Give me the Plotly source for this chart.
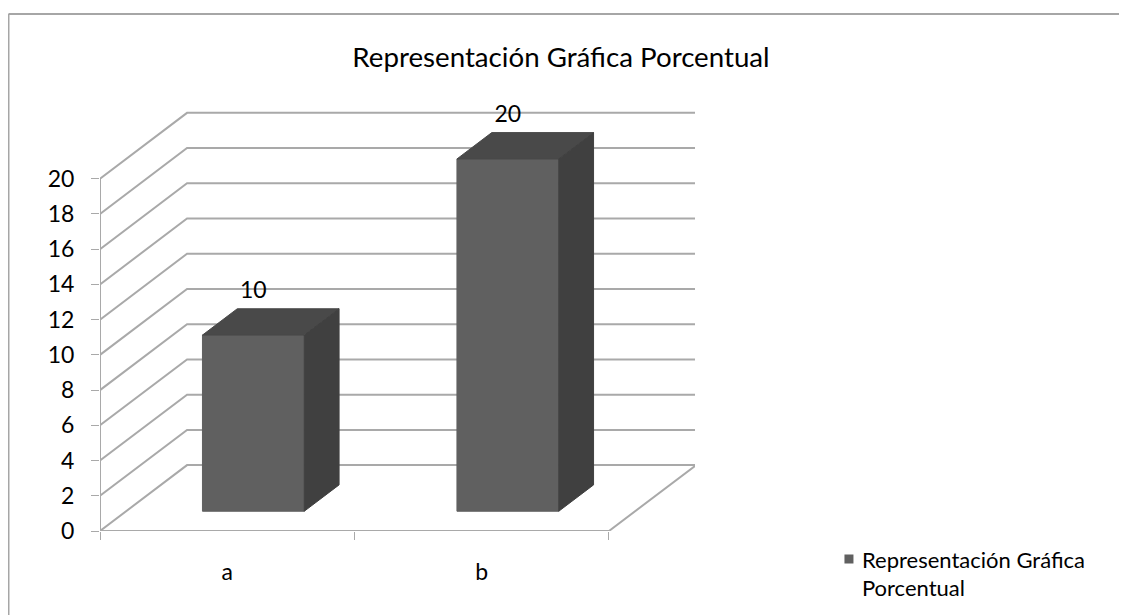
"""Pseudo-3D column chart drawn on a plain cartesian plot."""

import plotly.graph_objects as go

categories = ["a", "b"]
values = [10, 20]
y_ticks = [0, 2, 4, 6, 8, 10, 12, 14, 16, 18, 20]
title = "Representación Gráfica Porcentual"
series_name = "Representación Gráfica<br>Porcentual"

FONT = "Lato"
GRID = "#a9a9a9"
BORDER = "#a6a6a6"
FRONT = "#606060"
TOP = "#494949"
SIDE = "#404040"

# oblique projection of the depth axis, in axis units
DEPTH_X = 0.342
DEPTH_Y = 3.74
# the columns sit between 30% and 70% of the depth, 40% of the category wide
NEAR, FAR = 0.3, 0.7
BAR_LEFT, BAR_RIGHT = 0.3, 0.7


def depth(x, y, d):
    return x + d * DEPTH_X, y + d * DEPTH_Y


def face(points, color):
    xs, ys = zip(*points)
    return go.Scatter(x=list(xs) + [xs[0]], y=list(ys) + [ys[0]], mode="lines", fill="toself",
                      fillcolor=color, line=dict(color=color, width=1), hoverinfo="skip",
                      showlegend=False, cliponaxis=False)


def line(points):
    xs, ys = zip(*points)
    return go.Scatter(x=list(xs), y=list(ys), mode="lines", line=dict(color=GRID, width=2),
                      hoverinfo="skip", showlegend=False, cliponaxis=False)


fig = go.Figure()

# walls and floor
n = len(categories)
for v in y_ticks:
    fig.add_trace(line([(0, v), depth(0, v, 1), depth(n, v, 1)]))
fig.add_trace(line([(0, y_ticks[-1]), (0, 0), (n, 0), depth(n, 0, 1)]))

# columns
for i, v in enumerate(values):
    x0, x1 = i + BAR_LEFT, i + BAR_RIGHT
    fig.add_trace(face([depth(x0, 0, NEAR), depth(x1, 0, NEAR), depth(x1, v, NEAR), depth(x0, v, NEAR)], FRONT))
    fig.add_trace(face([depth(x0, v, NEAR), depth(x1, v, NEAR), depth(x1, v, FAR), depth(x0, v, FAR)], TOP))
    fig.add_trace(face([depth(x1, 0, NEAR), depth(x1, 0, FAR), depth(x1, v, FAR), depth(x1, v, NEAR)], SIDE))

# data labels
label_pos = [depth(i + 0.5, v + 2.45, NEAR) for i, v in enumerate(values)]
fig.add_trace(go.Scatter(x=[p[0] for p in label_pos], y=[p[1] for p in label_pos], mode="text",
                         text=[str(v) for v in values], textposition="middle center",
                         textfont=dict(family=FONT, size=23, color="black"),
                         showlegend=False, cliponaxis=False))

# legend entry; angle + standoff pull the swatch towards its text
fig.add_trace(go.Scatter(x=[None], y=[None], mode="markers", name=series_name,
                         marker=dict(symbol="square", size=9, color=FRONT, angle=90, standoff=7)))

# the page keeps its 8px body margin, so the figure is that much smaller than the window
fig.update_layout(
    width=1119, height=607,
    autosize=False,
    margin=dict(l=92, r=432, t=83, b=83.5),
    paper_bgcolor="white", plot_bgcolor="white",
    font=dict(family=FONT, color="black"),
    title=dict(text=title, x=553 / 1119, xanchor="center", y=1 - 49 / 607, yanchor="middle",
               font=dict(family=FONT, size=27.7)),
    # container-anchored so the legend does not push the bottom margin
    legend=dict(xref="container", yref="container", x=0.7274, y=0.1265, xanchor="left", yanchor="top",
                valign="top", font=dict(family=FONT, size=22), itemwidth=30, bgcolor="rgba(0,0,0,0)"),
    shapes=[
        dict(type="line", xref="paper", yref="paper", x0=-0.1538, x1=1.726, y0=1.1748, y1=1.1748,
             line=dict(color=BORDER, width=2)),
        dict(type="line", xref="paper", yref="paper", x0=-0.1538, x1=-0.1538, y0=1.1748, y1=-0.192,
             line=dict(color=BORDER, width=2)),
    ],
)
fig.update_xaxes(range=[0, 2.338], tickvals=[0.5, 1.5], ticktext=categories, ticks="",
                 ticklabelstandoff=25, tickfont=dict(family=FONT, size=23),
                 showgrid=False, showline=False, zeroline=False,
                 minor=dict(tickvals=[0, 1, 2], ticks="outside", ticklen=8, tickcolor=GRID, tickwidth=1))
fig.update_yaxes(range=[0, 24.98], tickvals=y_ticks, ticks="outside", ticklen=8, tickcolor=GRID,
                 tickwidth=1, ticklabelstandoff=12, tickfont=dict(family=FONT, size=23),
                 showgrid=False, showline=False, zeroline=False)

fig.write_html("out.html")
